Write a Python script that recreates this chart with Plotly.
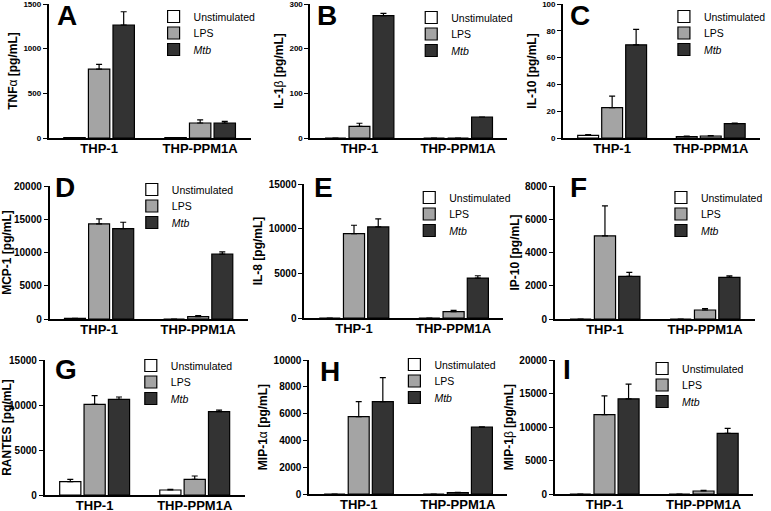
import plotly.graph_objects as go

W, H = 771, 511

groups = ["THP-1", "THP-PPM1A"]
conditions = ["Unstimulated", "LPS", "<i>Mtb</i>"]

# values per condition: [THP-1, THP-PPM1A], errors are upper SD
tnfa = [[5, 4], [770, 168], [1265, 168]]
tnfa_err = [[0, 0], [55, 35], [148, 17]]
il1b = [[0, 0], [26, 0], [274, 47]]
il1b_err = [[0, 0], [7, 0], [5, 0]]
il10 = [[2, 1], [22.7, 1.5], [69.5, 10.7]]
il10_err = [[0.5, 0.5], [8.5, 0.3], [11.5, 0.5]]
mcp1 = [[100, 0], [14300, 350], [13600, 9750]]
mcp1_err = [[0, 0], [750, 150], [950, 350]]
il8 = [[0, 0], [9450, 710], [10200, 4470]]
il8_err = [[0, 0], [930, 150], [890, 260]]
ip10 = [[0, 0], [5000, 540], [2560, 2500]]
ip10_err = [[0, 0], [1800, 80], [240, 100]]
rantes = [[1480, 555], [10070, 1740], [10630, 9260]]
rantes_err = [[260, 75], [970, 370], [260, 180]]
mip1a = [[0, 0], [5780, 100], [6900, 4990]]
mip1a_err = [[0, 0], [1120, 25], [1790, 20]]
mip1b = [[0, 0], [11850, 450], [14200, 9050]]
mip1b_err = [[0, 0], [2800, 100], [2200, 750]]

panel_letters = ["A", "B", "C", "D", "E", "F", "G", "H", "I"]
y_titles = ["<b>TNF</b>α<b> [pg/mL]</b>", "<b>IL-1</b>β<b> [pg/mL]</b>", "<b>IL-10 [pg/mL]</b>",
            "<b>MCP-1 [pg/mL]</b>", "<b>IL-8 [pg/mL]</b>", "<b>IP-10 [pg/mL]</b>",
            "<b>RANTES [pg/mL]</b>", "<b>MIP-1</b>α<b> [pg/mL]</b>", "<b>MIP-1</b>β<b> [pg/mL]</b>"]
y_max = [1500, 300, 100, 20000, 15000, 8000, 15000, 10000, 20000]
y_step = [500, 100, 20, 5000, 5000, 2000, 5000, 2000, 5000]
values = [tnfa, il1b, il10, mcp1, il8, ip10, rantes, mip1a, mip1b]
errors = [tnfa_err, il1b_err, il10_err, mcp1_err, il8_err, ip10_err, rantes_err, mip1a_err, mip1b_err]

colors = ["white", "#a4a4a4", "#333333"]

# pixel boxes of each plot area: x0, x1, ytop, ybottom
boxes = [(49, 253, 4, 138), (313, 512, 4, 138), (568, 767, 4, 138),
         (50, 250, 186, 319), (307, 508, 184, 318), (560, 762, 186, 319),
         (45, 247, 360, 495), (312, 512, 360, 494), (560, 760, 360, 494)]
# legend text left, first row centre, row step
legend_pos = [(195, 16), (455, 17), (710, 16), (173, 189), (453, 197), (707, 197),
              (172, 365), (438, 364), (688, 368)]
row_step = 16.5
letter_pos = [(55, -2), (318, -2), (573, -2), (53, 170), (315, 170), (573, 170),
              (53, 352), (321, 354), (566, 352)]
tick_size = [8, 8, 8, 10, 10, 10, 10, 10, 10]

fig = go.Figure()
layout = dict(width=W, height=H, margin=dict(l=0, r=0, t=0, b=0),
              plot_bgcolor="white", paper_bgcolor="white", barmode="group",
              bargap=0.27, bargroupgap=0.13,
              font=dict(family="Liberation Sans, Arial", color="black"))
annotations = []

for i in range(9):
    n = "" if i == 0 else str(i + 1)
    tx, ty = legend_pos[i]
    for c in range(3):
        k = i * 3 + c
        lg = "legend" if k == 0 else "legend" + str(k + 1)
        fig.add_trace(go.Bar(
            x=groups, y=values[i][c], name=conditions[c],
            marker=dict(color=colors[c], line=dict(color="black", width=1.2)),
            error_y=dict(type="data", array=errors[i][c], arrayminus=[0, 0], symmetric=False,
                         color="black", thickness=1.2, width=3),
            xaxis="x" + n, yaxis="y" + n, legend=lg, showlegend=True))
        layout[lg] = dict(x=(tx - 40) / W, y=1 - (ty + c * row_step - 14) / H,
                          xanchor="left", yanchor="top",
                          bgcolor="rgba(0,0,0,0)", font=dict(size=10.5))
    x0, x1, yt, yb = boxes[i]
    layout["xaxis" + n] = dict(domain=[x0 / W, x1 / W], anchor="y" + n, automargin=False,
                               showline=True, linecolor="black", linewidth=1.5,
                               ticks="", showgrid=False, ticklabelstandoff=-2,
                               tickfont=dict(size=13),
                               tickprefix="<b>", ticksuffix="</b>")
    layout["yaxis" + n] = dict(domain=[1 - yb / H, 1 - yt / H], anchor="x" + n, automargin=False,
                               range=[0, y_max[i]], dtick=y_step[i], tickformat="d",
                               ticklabeloverflow="allow",
                               showline=True, linecolor="black", linewidth=1.5,
                               ticks="outside", ticklen=4, tickwidth=1.2, tickcolor="black",
                               showgrid=False, zeroline=False,
                               tickprefix="<b>", ticksuffix="</b>",
                               tickfont=dict(size=tick_size[i]),
                               title=dict(text=y_titles[i], font=dict(size=12), standoff=3))
    lx, ly = letter_pos[i]
    annotations.append(dict(text="<b>" + panel_letters[i] + "</b>", x=lx / W, y=1 - ly / H,
                            xref="paper", yref="paper", xanchor="left", yanchor="top",
                            showarrow=False, font=dict(size=28, color="black")))

layout["annotations"] = annotations
fig.update_layout(**layout)
# the page's default body margin would push the figure off by 8px
fig.write_html("out.html", config={"displayModeBar": False},
               post_script="document.body.style.margin='0';")
